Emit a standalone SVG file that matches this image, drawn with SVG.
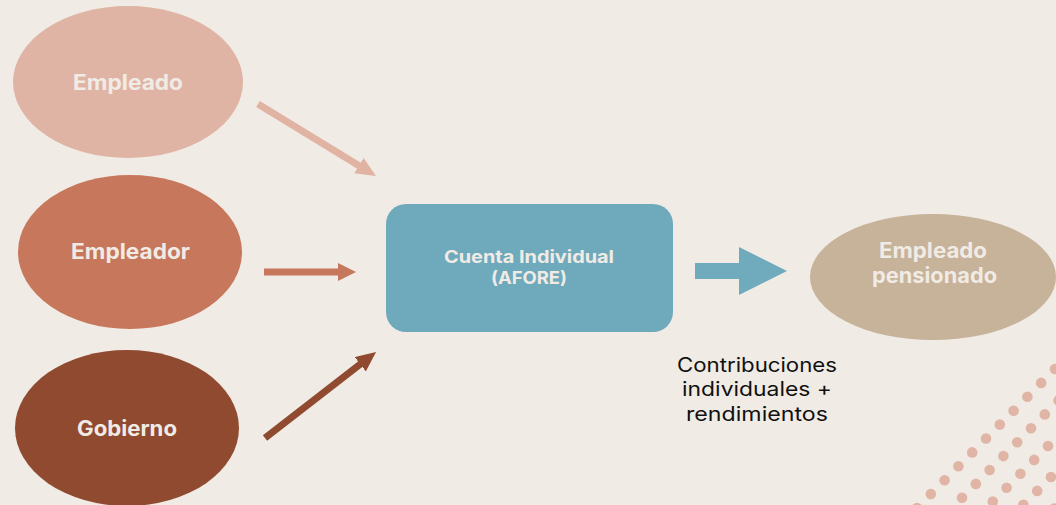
<svg xmlns="http://www.w3.org/2000/svg" width="1056" height="505" viewBox="0 0 1056 505">
<style>
.lbl{font-family:Inter,"Open Sans","Liberation Sans",sans-serif;font-weight:700;fill:#F0EBE5;text-anchor:middle}
.cap{font-family:Inter,"Open Sans","Liberation Sans",sans-serif;font-weight:400;fill:#111111;text-anchor:middle;font-size:19.5px}
.dot{fill:#E0B5A5}
.conn{fill:none;stroke-width:7}
</style>
<defs>
<marker id="h1" markerUnits="userSpaceOnUse" markerWidth="22" markerHeight="20" refX="6" refY="9" orient="auto"><path d="M0,0 L20,9 L0,18 z" fill="#E0B3A3"/></marker>
<marker id="h2" markerUnits="userSpaceOnUse" markerWidth="22" markerHeight="20" refX="4" refY="9" orient="auto"><path d="M0,0 L18,9 L0,18 z" fill="#C7775B"/></marker>
<marker id="h3" markerUnits="userSpaceOnUse" markerWidth="22" markerHeight="20" refX="6" refY="9" orient="auto"><path d="M0,0 L20,9 L0,18 z" fill="#8F4A30"/></marker>
</defs>
<rect width="1056" height="505" fill="#F0EBE5"/>
<g id="dots">
<circle class="dot" cx="1055" cy="369" r="5.3"/><circle class="dot" cx="1041.2" cy="382.9" r="5.3"/><circle class="dot" cx="1027.4" cy="396.8" r="5.3"/><circle class="dot" cx="1013.6" cy="410.7" r="5.3"/><circle class="dot" cx="999.8" cy="424.6" r="5.3"/><circle class="dot" cx="986" cy="438.5" r="5.3"/><circle class="dot" cx="972.2" cy="452.4" r="5.3"/><circle class="dot" cx="958.4" cy="466.3" r="5.3"/><circle class="dot" cx="944.6" cy="480.2" r="5.3"/><circle class="dot" cx="930.8" cy="494.1" r="5.3"/><circle class="dot" cx="917" cy="508" r="5.3"/>
<circle class="dot" cx="1058.6" cy="400.5" r="5.3"/><circle class="dot" cx="1044.8" cy="414.4" r="5.3"/><circle class="dot" cx="1031" cy="428.3" r="5.3"/><circle class="dot" cx="1017.2" cy="442.2" r="5.3"/><circle class="dot" cx="1003.4" cy="456.1" r="5.3"/><circle class="dot" cx="989.6" cy="470" r="5.3"/><circle class="dot" cx="975.8" cy="483.9" r="5.3"/><circle class="dot" cx="962" cy="497.8" r="5.3"/>
<circle class="dot" cx="1048" cy="446" r="5.3"/><circle class="dot" cx="1034.2" cy="459.9" r="5.3"/><circle class="dot" cx="1020.4" cy="473.8" r="5.3"/><circle class="dot" cx="1006.6" cy="487.7" r="5.3"/><circle class="dot" cx="992.8" cy="501.6" r="5.3"/>
<circle class="dot" cx="1051" cy="477" r="5.3"/><circle class="dot" cx="1037.2" cy="490.9" r="5.3"/><circle class="dot" cx="1023.4" cy="504.8" r="5.3"/>
<circle class="dot" cx="1054.2" cy="508.5" r="5.3"/>
</g>
<g id="empleado">
<ellipse cx="128" cy="82" rx="115" ry="76" fill="#E0B4A4"/>
<text class="lbl" x="128" y="90" font-size="21" textLength="110" lengthAdjust="spacingAndGlyphs">Empleado</text>
</g>
<g id="empleador">
<ellipse cx="130" cy="252" rx="112" ry="77" fill="#C7775B"/>
<text class="lbl" x="130.5" y="259" font-size="21" textLength="119" lengthAdjust="spacingAndGlyphs">Empleador</text>
</g>
<g id="gobierno">
<ellipse cx="127" cy="428" rx="112" ry="78" fill="#8F4A30"/>
<text class="lbl" x="127" y="436" font-size="21" textLength="100" lengthAdjust="spacingAndGlyphs">Gobierno</text>
</g>
<g id="cuenta">
<rect x="386" y="204" width="287" height="128" rx="20" fill="#6FA9BC"/>
<text class="lbl" x="529" y="263" font-size="17.5" textLength="170" lengthAdjust="spacingAndGlyphs">Cuenta Individual</text>
<text class="lbl" x="529" y="284" font-size="17.5" textLength="76" lengthAdjust="spacingAndGlyphs">(AFORE)</text>
</g>
<g id="pensionado">
<ellipse cx="933" cy="277" rx="123" ry="63" fill="#C7B29A"/>
<text class="lbl" x="933" y="258" font-size="21" textLength="108" lengthAdjust="spacingAndGlyphs">Empleado</text>
<text class="lbl" x="934.5" y="283" font-size="21" textLength="125" lengthAdjust="spacingAndGlyphs">pensionado</text>
</g>
<g id="connectors">
<line class="conn" x1="258" y1="104" x2="364" y2="168.7" stroke="#E0B3A3" marker-end="url(#h1)"/>
<line class="conn" x1="264" y1="272" x2="342" y2="272" stroke="#C7775B" marker-end="url(#h2)"/>
<line class="conn" x1="265" y1="438" x2="365" y2="360.6" stroke="#8F4A30" marker-end="url(#h3)"/>
<g id="flecha">
<rect x="695" y="263" width="52" height="16" fill="#6FAABD"/>
<polygon points="739,247 787,271 739,295" fill="#6FAABD"/>
</g>
</g>
<g id="nota">
<text class="cap" x="757" y="372" textLength="160" lengthAdjust="spacingAndGlyphs">Contribuciones</text>
<text class="cap" x="757" y="396" textLength="150" lengthAdjust="spacingAndGlyphs">individuales +</text>
<text class="cap" x="757" y="421" textLength="142" lengthAdjust="spacingAndGlyphs">rendimientos</text>
</g>
</svg>
